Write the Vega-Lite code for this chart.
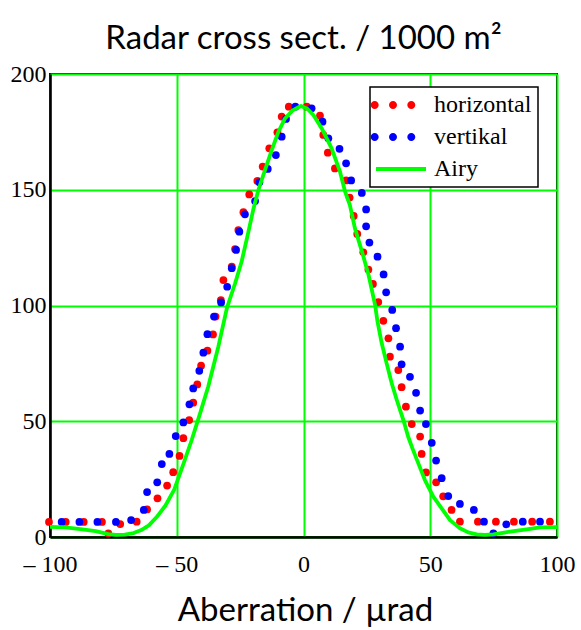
{
  "$schema": "https://vega.github.io/schema/vega-lite/v6.json",
  "width": 507,
  "height": 463,
  "autosize": {"type": "none"},
  "padding": {"left": 50, "top": 74, "right": 24, "bottom": 93},
  "background": "white",
  "title": {"text": "Radar cross sect. / 1000 m²", "font": "Lato", "fontSize": 33, "fontWeight": "normal", "color": "black", "anchor": "middle", "frame": "group", "offset": 6},
  "datasets": {
    "meas": [
      {"series": "horizontal", "aberration": -100.4, "rcs": 6.5},
      {"series": "horizontal", "aberration": -93.8, "rcs": 6.5},
      {"series": "horizontal", "aberration": -86.7, "rcs": 6.5},
      {"series": "horizontal", "aberration": -79.5, "rcs": 6.5},
      {"series": "horizontal", "aberration": -77.0, "rcs": 1.6},
      {"series": "horizontal", "aberration": -72.3, "rcs": 5.6},
      {"series": "horizontal", "aberration": -65.8, "rcs": 6.6},
      {"series": "horizontal", "aberration": -61.7, "rcs": 11.9},
      {"series": "horizontal", "aberration": -57.6, "rcs": 16.7},
      {"series": "horizontal", "aberration": -53.8, "rcs": 22.2},
      {"series": "horizontal", "aberration": -51.4, "rcs": 28.0},
      {"series": "horizontal", "aberration": -48.9, "rcs": 35.0},
      {"series": "horizontal", "aberration": -47.4, "rcs": 42.7},
      {"series": "horizontal", "aberration": -45.1, "rcs": 50.5},
      {"series": "horizontal", "aberration": -43.5, "rcs": 58.0},
      {"series": "horizontal", "aberration": -41.9, "rcs": 65.9},
      {"series": "horizontal", "aberration": -40.4, "rcs": 74.0},
      {"series": "horizontal", "aberration": -37.9, "rcs": 80.5},
      {"series": "horizontal", "aberration": -35.7, "rcs": 87.5},
      {"series": "horizontal", "aberration": -34.7, "rcs": 95.2},
      {"series": "horizontal", "aberration": -32.6, "rcs": 102.3},
      {"series": "horizontal", "aberration": -31.6, "rcs": 111.0},
      {"series": "horizontal", "aberration": -28.3, "rcs": 116.8},
      {"series": "horizontal", "aberration": -27.0, "rcs": 124.4},
      {"series": "horizontal", "aberration": -25.7, "rcs": 132.6},
      {"series": "horizontal", "aberration": -23.7, "rcs": 140.3},
      {"series": "horizontal", "aberration": -21.4, "rcs": 148.0},
      {"series": "horizontal", "aberration": -18.2, "rcs": 153.8},
      {"series": "horizontal", "aberration": -16.1, "rcs": 160.0},
      {"series": "horizontal", "aberration": -13.5, "rcs": 167.9},
      {"series": "horizontal", "aberration": -10.3, "rcs": 174.8},
      {"series": "horizontal", "aberration": -8.6, "rcs": 181.6},
      {"series": "horizontal", "aberration": -5.8, "rcs": 185.9},
      {"series": "horizontal", "aberration": 1.3, "rcs": 185.9},
      {"series": "horizontal", "aberration": 6.5, "rcs": 182.0},
      {"series": "horizontal", "aberration": 7.8, "rcs": 173.7},
      {"series": "horizontal", "aberration": 9.6, "rcs": 166.0},
      {"series": "horizontal", "aberration": 12.4, "rcs": 159.2},
      {"series": "horizontal", "aberration": 16.8, "rcs": 154.0},
      {"series": "horizontal", "aberration": 18.2, "rcs": 146.6},
      {"series": "horizontal", "aberration": 19.8, "rcs": 138.7},
      {"series": "horizontal", "aberration": 21.2, "rcs": 130.9},
      {"series": "horizontal", "aberration": 23.6, "rcs": 123.0},
      {"series": "horizontal", "aberration": 25.6, "rcs": 115.5},
      {"series": "horizontal", "aberration": 27.4, "rcs": 109.3},
      {"series": "horizontal", "aberration": 29.5, "rcs": 101.5},
      {"series": "horizontal", "aberration": 31.5, "rcs": 93.4},
      {"series": "horizontal", "aberration": 33.5, "rcs": 85.8},
      {"series": "horizontal", "aberration": 34.1, "rcs": 77.9},
      {"series": "horizontal", "aberration": 37.4, "rcs": 72.1},
      {"series": "horizontal", "aberration": 38.7, "rcs": 64.7},
      {"series": "horizontal", "aberration": 40.4, "rcs": 56.3},
      {"series": "horizontal", "aberration": 42.7, "rcs": 48.8},
      {"series": "horizontal", "aberration": 46.0, "rcs": 43.4},
      {"series": "horizontal", "aberration": 46.6, "rcs": 35.9},
      {"series": "horizontal", "aberration": 48.3, "rcs": 27.9},
      {"series": "horizontal", "aberration": 52.3, "rcs": 23.6},
      {"series": "horizontal", "aberration": 55.1, "rcs": 17.6},
      {"series": "horizontal", "aberration": 58.4, "rcs": 11.7},
      {"series": "horizontal", "aberration": 61.7, "rcs": 6.6},
      {"series": "horizontal", "aberration": 68.8, "rcs": 6.6},
      {"series": "horizontal", "aberration": 75.9, "rcs": 6.6},
      {"series": "horizontal", "aberration": 83.0, "rcs": 6.6},
      {"series": "horizontal", "aberration": 90.2, "rcs": 6.6},
      {"series": "horizontal", "aberration": 97.2, "rcs": 6.6},
      {"series": "vertikal", "aberration": -95.4, "rcs": 6.5},
      {"series": "vertikal", "aberration": -88.4, "rcs": 6.5},
      {"series": "vertikal", "aberration": -81.3, "rcs": 6.5},
      {"series": "vertikal", "aberration": -74.0, "rcs": 6.5},
      {"series": "vertikal", "aberration": -68.0, "rcs": 7.3},
      {"series": "vertikal", "aberration": -63.0, "rcs": 11.7},
      {"series": "vertikal", "aberration": -61.7, "rcs": 19.4},
      {"series": "vertikal", "aberration": -57.7, "rcs": 23.6},
      {"series": "vertikal", "aberration": -55.9, "rcs": 31.5},
      {"series": "vertikal", "aberration": -52.9, "rcs": 35.9},
      {"series": "vertikal", "aberration": -50.4, "rcs": 43.6},
      {"series": "vertikal", "aberration": -47.4, "rcs": 49.5},
      {"series": "vertikal", "aberration": -45.0, "rcs": 57.3},
      {"series": "vertikal", "aberration": -43.5, "rcs": 64.2},
      {"series": "vertikal", "aberration": -41.1, "rcs": 71.8},
      {"series": "vertikal", "aberration": -39.5, "rcs": 79.6},
      {"series": "vertikal", "aberration": -37.9, "rcs": 87.6},
      {"series": "vertikal", "aberration": -35.3, "rcs": 95.2},
      {"series": "vertikal", "aberration": -32.5, "rcs": 101.3},
      {"series": "vertikal", "aberration": -30.1, "rcs": 108.1},
      {"series": "vertikal", "aberration": -28.3, "rcs": 116.1},
      {"series": "vertikal", "aberration": -26.6, "rcs": 124.0},
      {"series": "vertikal", "aberration": -25.3, "rcs": 131.9},
      {"series": "vertikal", "aberration": -23.1, "rcs": 139.4},
      {"series": "vertikal", "aberration": -19.1, "rcs": 145.1},
      {"series": "vertikal", "aberration": -17.4, "rcs": 153.2},
      {"series": "vertikal", "aberration": -14.1, "rcs": 159.0},
      {"series": "vertikal", "aberration": -10.9, "rcs": 165.0},
      {"series": "vertikal", "aberration": -8.6, "rcs": 172.9},
      {"series": "vertikal", "aberration": -6.9, "rcs": 180.6},
      {"series": "vertikal", "aberration": -3.2, "rcs": 185.9},
      {"series": "vertikal", "aberration": 3.2, "rcs": 185.2},
      {"series": "vertikal", "aberration": 7.5, "rcs": 179.4},
      {"series": "vertikal", "aberration": 9.8, "rcs": 172.2},
      {"series": "vertikal", "aberration": 14.2, "rcs": 167.7},
      {"series": "vertikal", "aberration": 16.8, "rcs": 161.4},
      {"series": "vertikal", "aberration": 18.8, "rcs": 154.0},
      {"series": "vertikal", "aberration": 23.0, "rcs": 148.6},
      {"series": "vertikal", "aberration": 24.7, "rcs": 141.5},
      {"series": "vertikal", "aberration": 24.7, "rcs": 134.2},
      {"series": "vertikal", "aberration": 26.0, "rcs": 127.2},
      {"series": "vertikal", "aberration": 29.2, "rcs": 121.1},
      {"series": "vertikal", "aberration": 31.6, "rcs": 113.4},
      {"series": "vertikal", "aberration": 32.6, "rcs": 105.7},
      {"series": "vertikal", "aberration": 35.0, "rcs": 98.1},
      {"series": "vertikal", "aberration": 36.5, "rcs": 90.2},
      {"series": "vertikal", "aberration": 38.1, "rcs": 82.2},
      {"series": "vertikal", "aberration": 38.7, "rcs": 74.6},
      {"series": "vertikal", "aberration": 42.0, "rcs": 69.2},
      {"series": "vertikal", "aberration": 44.4, "rcs": 62.3},
      {"series": "vertikal", "aberration": 46.0, "rcs": 54.6},
      {"series": "vertikal", "aberration": 48.3, "rcs": 48.8},
      {"series": "vertikal", "aberration": 50.6, "rcs": 40.7},
      {"series": "vertikal", "aberration": 52.3, "rcs": 33.0},
      {"series": "vertikal", "aberration": 54.5, "rcs": 25.4},
      {"series": "vertikal", "aberration": 57.1, "rcs": 17.7},
      {"series": "vertikal", "aberration": 61.7, "rcs": 14.3},
      {"series": "vertikal", "aberration": 67.2, "rcs": 11.7},
      {"series": "vertikal", "aberration": 71.2, "rcs": 6.6},
      {"series": "vertikal", "aberration": 74.9, "rcs": 1.6},
      {"series": "vertikal", "aberration": 80.0, "rcs": 5.5},
      {"series": "vertikal", "aberration": 86.5, "rcs": 6.6},
      {"series": "vertikal", "aberration": 93.3, "rcs": 6.6}
    ],
    "airy": [
      {"series": "Airy", "aberration": -100, "rcs": 4.4},
      {"series": "Airy", "aberration": -94, "rcs": 4.2},
      {"series": "Airy", "aberration": -88, "rcs": 3.4},
      {"series": "Airy", "aberration": -82, "rcs": 2.5},
      {"series": "Airy", "aberration": -77, "rcs": 1.2},
      {"series": "Airy", "aberration": -74, "rcs": 0.9},
      {"series": "Airy", "aberration": -70.5, "rcs": 1.0},
      {"series": "Airy", "aberration": -67, "rcs": 1.7},
      {"series": "Airy", "aberration": -64, "rcs": 3.0},
      {"series": "Airy", "aberration": -61, "rcs": 5.0},
      {"series": "Airy", "aberration": -58, "rcs": 8.5},
      {"series": "Airy", "aberration": -54.5, "rcs": 13.5},
      {"series": "Airy", "aberration": -51, "rcs": 20.5},
      {"series": "Airy", "aberration": -47.4, "rcs": 31.5},
      {"series": "Airy", "aberration": -44.1, "rcs": 41.9},
      {"series": "Airy", "aberration": -40.8, "rcs": 53.4},
      {"series": "Airy", "aberration": -37.6, "rcs": 64.9},
      {"series": "Airy", "aberration": -33.6, "rcs": 82.2},
      {"series": "Airy", "aberration": -30.2, "rcs": 99.0},
      {"series": "Airy", "aberration": -27.0, "rcs": 109.5},
      {"series": "Airy", "aberration": -24.4, "rcs": 119.0},
      {"series": "Airy", "aberration": -21.8, "rcs": 131.5},
      {"series": "Airy", "aberration": -19.8, "rcs": 141.5},
      {"series": "Airy", "aberration": -17.8, "rcs": 149.9},
      {"series": "Airy", "aberration": -15.2, "rcs": 158.5},
      {"series": "Airy", "aberration": -12.5, "rcs": 167.2},
      {"series": "Airy", "aberration": -9.9, "rcs": 175.0},
      {"series": "Airy", "aberration": -7.3, "rcs": 180.8},
      {"series": "Airy", "aberration": -4.3, "rcs": 184.3},
      {"series": "Airy", "aberration": -1.0, "rcs": 186.2},
      {"series": "Airy", "aberration": 1.5, "rcs": 185.0},
      {"series": "Airy", "aberration": 3.9, "rcs": 182.3},
      {"series": "Airy", "aberration": 7.2, "rcs": 176.5},
      {"series": "Airy", "aberration": 11.1, "rcs": 167.9},
      {"series": "Airy", "aberration": 14.4, "rcs": 157.8},
      {"series": "Airy", "aberration": 16.4, "rcs": 149.2},
      {"series": "Airy", "aberration": 18.3, "rcs": 143.4},
      {"series": "Airy", "aberration": 20.3, "rcs": 133.3},
      {"series": "Airy", "aberration": 23.0, "rcs": 123.5},
      {"series": "Airy", "aberration": 25.6, "rcs": 113.5},
      {"series": "Airy", "aberration": 28.2, "rcs": 100.5},
      {"series": "Airy", "aberration": 29.2, "rcs": 93.0},
      {"series": "Airy", "aberration": 30.8, "rcs": 84.0},
      {"series": "Airy", "aberration": 32.8, "rcs": 75.0},
      {"series": "Airy", "aberration": 34.8, "rcs": 66.4},
      {"series": "Airy", "aberration": 36.8, "rcs": 59.2},
      {"series": "Airy", "aberration": 39.4, "rcs": 50.5},
      {"series": "Airy", "aberration": 41.3, "rcs": 43.3},
      {"series": "Airy", "aberration": 42.9, "rcs": 38.5},
      {"series": "Airy", "aberration": 45.3, "rcs": 31.8},
      {"series": "Airy", "aberration": 47.9, "rcs": 24.6},
      {"series": "Airy", "aberration": 51.2, "rcs": 17.4},
      {"series": "Airy", "aberration": 54.5, "rcs": 12.4},
      {"series": "Airy", "aberration": 57.8, "rcs": 7.3},
      {"series": "Airy", "aberration": 61.7, "rcs": 3.8},
      {"series": "Airy", "aberration": 65, "rcs": 2.0},
      {"series": "Airy", "aberration": 68.3, "rcs": 1.1},
      {"series": "Airy", "aberration": 71.5, "rcs": 0.9},
      {"series": "Airy", "aberration": 74.9, "rcs": 1.1},
      {"series": "Airy", "aberration": 78, "rcs": 1.7},
      {"series": "Airy", "aberration": 81.5, "rcs": 2.3},
      {"series": "Airy", "aberration": 88, "rcs": 3.3},
      {"series": "Airy", "aberration": 93.3, "rcs": 4.2},
      {"series": "Airy", "aberration": 100, "rcs": 4.3}
    ]
  },
  "config": {
    "view": {"stroke": "black", "strokeWidth": 2},
    "axis": {
      "grid": true, "gridColor": "#00ff00", "gridWidth": 2, "gridOpacity": 1,
      "domain": true, "domainColor": "black", "domainWidth": 2.5,
      "ticks": false, "tickSize": 0,
      "labelFont": "Liberation Serif", "labelFontSize": 24, "labelColor": "black",
      "labelOverlap": false, "labelFlush": false,
      "titleFont": "Lato", "titleFontSize": 33, "titleFontWeight": "normal", "titleColor": "black"
    },
    "legend": {
      "title": null, "orient": "none", "legendX": 320, "legendY": 13, "zindex": 5,
      "padding": 6, "strokeColor": "black", "strokeWidth": 1.5, "fillColor": "white",
      "symbolSize": 100, "symbolStrokeWidth": 0, "symbolOpacity": 1,
      "labelFont": "Liberation Serif", "labelFontSize": 24, "labelColor": "black",
      "labelOffset": 34, "rowPadding": 8, "labelLimit": 300
    }
  },
  "encoding": {
    "x": {
      "field": "aberration", "type": "quantitative",
      "scale": {"domain": [-100, 100], "nice": false, "zero": false},
      "axis": {
        "values": [-100, -50, 0, 50, 100],
        "labelExpr": "datum.value < 0 ? '– ' + abs(datum.value) : datum.label",
        "labelBaseline": "alphabetic", "labelPadding": 34, "labelDx": 5,
        "title": "Aberration / µrad", "titleBaseline": "alphabetic", "titleY": 83, "titleX": 255
      }
    },
    "y": {
      "field": "rcs", "type": "quantitative",
      "scale": {"domain": [0, 200], "nice": false},
      "axis": {"values": [0, 50, 100, 150, 200], "labelPadding": 4, "title": null}
    }
  },
  "layer": [
    {
      "data": {"name": "meas"},
      "mark": {"type": "circle", "size": 60, "opacity": 1},
      "encoding": {
        "color": {
          "field": "series", "type": "nominal",
          "scale": {"domain": ["horizontal", "vertikal", "Airy"], "range": ["#ff0000", "#0000ff", "#00ff00"]}
        }
      }
    },
    {
      "data": {"name": "airy"},
      "mark": {"type": "line", "strokeWidth": 3.8, "strokeJoin": "round"},
      "encoding": {
        "color": {"field": "series", "type": "nominal"}
      }
    },
    {
      "data": {"name": "meas"},
      "transform": [{"filter": "datum.rcs > 1000"}],
      "mark": {"type": "point", "filled": true, "opacity": 1},
      "encoding": {
        "color": {"field": "series", "type": "nominal"},
        "shape": {
          "field": "series", "type": "nominal",
          "scale": {
            "domain": ["horizontal", "vertikal", "Airy"],
            "range": [
              "M-3.46,0a0.8,0.8 0 1,0 1.6,0a0.8,0.8 0 1,0 -1.6,0ZM0.2,0a0.8,0.8 0 1,0 1.6,0a0.8,0.8 0 1,0 -1.6,0ZM3.86,0a0.8,0.8 0 1,0 1.6,0a0.8,0.8 0 1,0 -1.6,0Z",
              "M-3.46,0a0.8,0.8 0 1,0 1.6,0a0.8,0.8 0 1,0 -1.6,0ZM0.2,0a0.8,0.8 0 1,0 1.6,0a0.8,0.8 0 1,0 -1.6,0ZM3.86,0a0.8,0.8 0 1,0 1.6,0a0.8,0.8 0 1,0 -1.6,0Z",
              "M-2.4,-0.4H7.6V0.4H-2.4Z"
            ]
          }
        }
      }
    }
  ]
}
